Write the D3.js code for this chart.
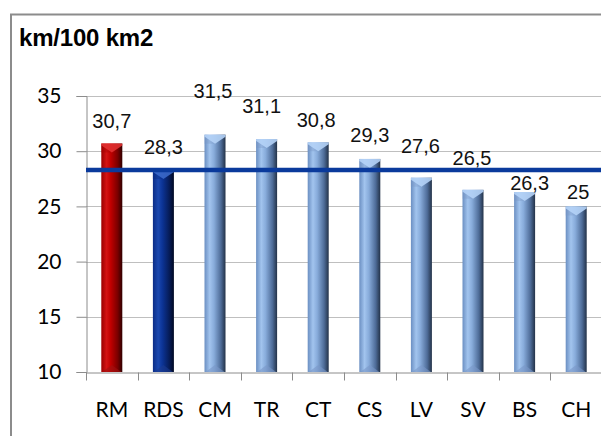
<!DOCTYPE html>
<html>
<head>
<meta charset="utf-8">
<script src="https://cdn.jsdelivr.net/npm/d3@7"></script>
<style>
  html, body { margin: 0; padding: 0; background: #fff; }
  svg { display: block; }
</style>
</head>
<body>
<svg id="chart" width="601" height="436"></svg>
<script>
// Road density by region, km per 100 km2
const categories = ["RM", "RDS", "CM", "TR", "CT", "CS", "LV", "SV", "BS", "CH"];
const values = [30.7, 28.3, 31.5, 31.1, 30.8, 29.3, 27.6, 26.5, 26.3, 25];
const valueLabels = ["30,7", "28,3", "31,5", "31,1", "30,8", "29,3", "27,6", "26,5", "26,3", "25"];
const barTheme = ["red", "navy", "blue", "blue", "blue", "blue", "blue", "blue", "blue", "blue"];
const averageValue = 28.3;
const yTicks = [10, 15, 20, 25, 30, 35];

// Label placement: [dx, lift above bar top] in px
const labelNudge = [[0, 15], [0, 16], [-2, 37], [-5, 26], [-2, 15], [0, 17], [-1, 25], [-1, 25], [5, 2], [2, 7]];

const svg = d3.select("#chart");
const margin = { left: 86 };
const plotRight = 602;
const y = d3.scaleLinear().domain([10, 35]).range([372, 96]);
const x = d3.scaleBand().domain(categories).range([margin.left, plotRight]).paddingInner(0).paddingOuter(0);

// Gradients for the cylinder-like bars
const defs = svg.append("defs");
const themes = {
  red:  { stops: [["0%", "#9a0000"], ["25%", "#d41414"], ["45%", "#c00000"], ["78%", "#7a0000"], ["100%", "#300000"]], cap: "#e03030", capSide: "#a00000", base: "#a01010" },
  navy: { stops: [["0%", "#0a2c86"], ["25%", "#1a48b0"], ["45%", "#0c3496"], ["78%", "#061c58"], ["100%", "#000822"]], cap: "#3a68c8", capSide: "#0a2a80", base: "#1a3a90" },
  blue: { stops: [["0%", "#6b8fc2"], ["25%", "#a2c4ee"], ["45%", "#88acdb"], ["78%", "#4e6c98"], ["100%", "#233248"]], cap: "#b4d2f6", capSide: "#7896c4", base: "#7a98c8" }
};
Object.entries(themes).forEach(([k, t]) => {
  const g = defs.append("linearGradient").attr("id", "grad-" + k).attr("x1", "0%").attr("x2", "100%").attr("y1", "0%").attr("y2", "0%");
  t.stops.forEach(s => g.append("stop").attr("offset", s[0]).attr("stop-color", s[1]));
});

// Chart frame
svg.append("rect").attr("x", 11).attr("y", 14.5).attr("width", 620).attr("height", 450)
  .attr("fill", "none").attr("stroke", "#8c8c8c").attr("stroke-width", 2);

// Title
svg.append("text").attr("x", 19).attr("y", 46)
  .attr("font-family", "Liberation Sans, Arial, sans-serif").attr("font-weight", "bold")
  .attr("font-size", 24).attr("letter-spacing", -0.2).attr("fill", "#000").text("km/100 km2");

// Gridlines
svg.append("g").selectAll("line").data(yTicks.slice(1)).join("line")
  .attr("x1", margin.left).attr("x2", plotRight)
  .attr("y1", d => Math.round(y(d)) + 0.5).attr("y2", d => Math.round(y(d)) + 0.5)
  .attr("stroke", "#bfbfbf").attr("stroke-width", 1);

// Y axis
const yAxis = svg.append("g").attr("transform", `translate(${margin.left + 0.5},0)`)
  .call(d3.axisLeft(y).tickValues(yTicks).tickSize(10).tickPadding(15).tickFormat(d3.format("d")));
yAxis.select(".domain").attr("stroke", "#8c8c8c");
yAxis.selectAll(".tick line").attr("stroke", "#8c8c8c");
yAxis.selectAll(".tick text").attr("font-family", "Lato, Carlito, sans-serif").attr("font-size", 21).attr("fill", "#000");

// X axis
const xAxis = svg.append("g").attr("transform", `translate(0,${Math.round(y(10)) + 0.5})`)
  .call(d3.axisBottom(x).tickSize(0).tickPadding(30));
xAxis.select(".domain").attr("stroke", "#8c8c8c");
xAxis.selectAll(".tick text").attr("font-family", "Lato, Carlito, sans-serif").attr("font-size", 21).attr("fill", "#000");
// band-boundary tick marks
xAxis.append("g").selectAll("line").data(categories.slice(1)).join("line")
  .attr("x1", d => Math.round(x(d)) + 0.5).attr("x2", d => Math.round(x(d)) + 0.5)
  .attr("y1", 0).attr("y2", 8).attr("stroke", "#8c8c8c");
xAxis.append("line").attr("x1", margin.left + 0.5).attr("x2", margin.left + 0.5).attr("y1", 0).attr("y2", 8).attr("stroke", "#8c8c8c");

// Bars
const barW = 21;
const bars = svg.append("g").selectAll("g").data(categories).join("g");
bars.each(function (c, i) {
  const g = d3.select(this);
  const t = themes[barTheme[i]];
  const cx = x(c) + x.bandwidth() / 2;
  const x0 = cx - barW / 2, x1 = cx + barW / 2;
  const top = y(values[i]), bottom = y(10);
  g.append("rect").attr("x", x0).attr("y", top).attr("width", barW).attr("height", bottom - top)
    .attr("fill", `url(#grad-${barTheme[i]})`);
  // top bevel
  g.append("path").attr("d", `M${x0},${top}L${x1},${top}L${x1},${top + 2}L${cx},${top + 9}L${x0},${top + 2}Z`)
    .attr("fill", t.cap).attr("opacity", 0.9);
  g.append("path").attr("d", `M${x0},${top + 2}L${cx},${top + 9}L${x0},${top + 9}Z`).attr("fill", t.capSide).attr("opacity", 0.35);
  // base bevel
  g.append("path").attr("d", `M${x0 + 1},${bottom}L${cx},${bottom - 7}L${x1 - 1},${bottom}Z`)
    .attr("fill", t.base).attr("opacity", 0.6);
});

// Average line
svg.append("line").attr("x1", margin.left).attr("x2", plotRight)
  .attr("y1", y(averageValue)).attr("y2", y(averageValue))
  .attr("stroke", "#0a3a9c").attr("stroke-width", 4.5);

// Value labels
svg.append("g").selectAll("text").data(categories).join("text")
  .attr("x", (c, i) => x(c) + x.bandwidth() / 2 + labelNudge[i][0])
  .attr("y", (c, i) => y(values[i]) - labelNudge[i][1])
  .attr("text-anchor", "middle")
  .attr("font-family", "Liberation Sans, Arial, sans-serif").attr("font-size", 20).attr("fill", "#111")
  .text((c, i) => valueLabels[i]);
</script>
</body>
</html>
